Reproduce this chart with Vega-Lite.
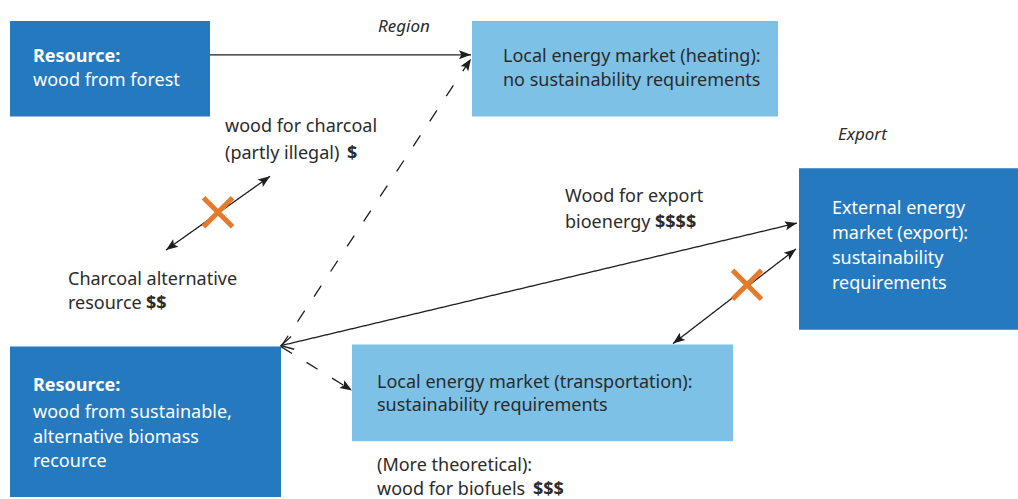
{
  "$schema": "https://vega.github.io/schema/vega-lite/v6.json",
  "width": 1018,
  "height": 499,
  "autosize": {"type": "fit", "contains": "padding"},
  "padding": 0,
  "background": "white",
  "config": {"view": {"stroke": null}, "font": "Noto Sans"},
  "datasets": {
    "boxes": [
      {"name": "forest", "x": 10, "x2": 210, "y": 21, "y2": 117, "kind": "resource"},
      {"name": "heating", "x": 472, "x2": 778, "y": 21, "y2": 117, "kind": "local"},
      {"name": "export", "x": 799, "x2": 1018, "y": 169, "y2": 331, "kind": "resource"},
      {"name": "sustainable", "x": 10, "x2": 281, "y": 348, "y2": 499, "kind": "resource"},
      {"name": "transport", "x": 352, "x2": 733, "y": 346, "y2": 443, "kind": "local"}
    ],
    "arrows": [
      {"x": 210, "y": 55, "x2": 471, "y2": 55, "line": "solid"},
      {"x": 281, "y": 348, "x2": 471, "y2": 59, "line": "dashed"},
      {"x": 281, "y": 347, "x2": 797, "y2": 224, "line": "solid"},
      {"x": 281, "y": 348, "x2": 352, "y2": 392, "line": "dashed"},
      {"x": 166, "y": 251, "x2": 270, "y2": 177, "line": "solid"},
      {"x": 673, "y": 345, "x2": 796, "y2": 250, "line": "solid"}
    ],
    "heads": [
      {"x": 471, "y": 55, "dir": 90},
      {"x": 471, "y": 59, "dir": 33.3},
      {"x": 797, "y": 224, "dir": 76.6},
      {"x": 352, "y": 392, "dir": 121.8},
      {"x": 270, "y": 177, "dir": 54.6},
      {"x": 166, "y": 251, "dir": 234.6},
      {"x": 796, "y": 250, "dir": 52.3},
      {"x": 673, "y": 345, "dir": 232.3}
    ],
    "chevrons": [
      {"x": 281, "y": 347, "dir": 256.6}
    ],
    "crosses": [
      {"x": 218, "y": 213},
      {"x": 747, "y": 286}
    ],
    "texts": [
      {"text": "Resource:", "x": 33, "y": 62, "style": "white-bold"},
      {"text": "wood from forest", "x": 33, "y": 86, "style": "white"},
      {"text": "Local energy market (heating):", "x": 503, "y": 62, "style": "dark"},
      {"text": "no sustainability requirements", "x": 503, "y": 86, "style": "dark"},
      {"text": "Region", "x": 378, "y": 32, "style": "italic"},
      {"text": "Export", "x": 838, "y": 141, "style": "italic"},
      {"text": "wood for charcoal", "x": 225, "y": 133, "style": "dark"},
      {"text": "(partly illegal)", "x": 225, "y": 160, "style": "dark"},
      {"text": "$", "x": 347, "y": 160, "style": "dark-bold"},
      {"text": "Charcoal alternative", "x": 68, "y": 286, "style": "dark"},
      {"text": "resource", "x": 68, "y": 310, "style": "dark"},
      {"text": "$$", "x": 146, "y": 310, "style": "dark-bold"},
      {"text": "Wood for export", "x": 565, "y": 203, "style": "dark"},
      {"text": "bioenergy", "x": 565, "y": 229, "style": "dark"},
      {"text": "$$$$", "x": 655, "y": 229, "style": "dark-bold"},
      {"text": "External energy", "x": 832, "y": 215, "style": "white"},
      {"text": "market (export):", "x": 832, "y": 240, "style": "white"},
      {"text": "sustainability", "x": 832, "y": 265, "style": "white"},
      {"text": "requirements", "x": 832, "y": 290, "style": "white"},
      {"text": "Resource:", "x": 33, "y": 393, "style": "white-bold"},
      {"text": "wood from sustainable,", "x": 33, "y": 420, "style": "white"},
      {"text": "alternative biomass", "x": 33, "y": 445, "style": "white"},
      {"text": "recource", "x": 33, "y": 469, "style": "white"},
      {"text": "Local energy market (transportation):", "x": 377, "y": 390, "style": "dark"},
      {"text": "sustainability requirements", "x": 377, "y": 413, "style": "dark"},
      {"text": "(More theoretical):", "x": 377, "y": 473, "style": "dark"},
      {"text": "wood for biofuels", "x": 377, "y": 497, "style": "dark"},
      {"text": "$$$", "x": 533, "y": 497, "style": "dark-bold"}
    ]
  },
  "encoding": {
    "x": {"field": "x", "type": "quantitative", "scale": {"domain": [0, 1018], "nice": false, "zero": false}, "axis": null},
    "y": {"field": "y", "type": "quantitative", "scale": {"domain": [0, 499], "reverse": true, "nice": false, "zero": false}, "axis": null}
  },
  "layer": [
    {
      "data": {"name": "boxes"},
      "mark": {"type": "rect"},
      "encoding": {
        "x2": {"field": "x2"},
        "y2": {"field": "y2"},
        "color": {"field": "kind", "type": "nominal", "scale": {"domain": ["resource", "local"], "range": ["#2579bf", "#7dc2e6"]}, "legend": null}
      }
    },
    {
      "data": {"name": "arrows"},
      "mark": {"type": "rule", "color": "#1e1e1e", "strokeWidth": 1.3},
      "encoding": {
        "x2": {"field": "x2"},
        "y2": {"field": "y2"},
        "strokeDash": {"field": "line", "type": "nominal", "scale": {"domain": ["solid", "dashed"], "range": [[1, 0], [13, 17]]}, "legend": null}
      }
    },
    {
      "data": {"name": "heads"},
      "mark": {"type": "point", "shape": "M0,0L0.38,1L0,0.8L-0.38,1Z", "filled": true, "color": "#1e1e1e", "opacity": 1, "size": 576},
      "encoding": {
        "angle": {"field": "dir", "type": "quantitative", "scale": null}
      }
    },
    {
      "data": {"name": "chevrons"},
      "mark": {"type": "point", "shape": "M-0.55,1L0,0L0.55,1", "filled": false, "color": "#1e1e1e", "strokeWidth": 1.3, "opacity": 1, "size": 576},
      "encoding": {
        "angle": {"field": "dir", "type": "quantitative", "scale": null}
      }
    },
    {
      "data": {"name": "crosses"},
      "mark": {"type": "point", "shape": "M-1,-1L1,1M1,-1L-1,1", "filled": false, "color": "#e57a2b", "strokeWidth": 5, "opacity": 1, "size": 841}
    },
    {
      "data": {"name": "texts"},
      "transform": [{"filter": "datum.style === 'white'"}],
      "mark": {"type": "text", "align": "left", "baseline": "alphabetic", "font": "Noto Sans", "fontSize": 18, "color": "#ffffff"},
      "encoding": {"text": {"field": "text"}}
    },
    {
      "data": {"name": "texts"},
      "transform": [{"filter": "datum.style === 'white-bold'"}],
      "mark": {"type": "text", "align": "left", "baseline": "alphabetic", "font": "Noto Sans", "fontSize": 18, "fontWeight": "bold", "color": "#ffffff"},
      "encoding": {"text": {"field": "text"}}
    },
    {
      "data": {"name": "texts"},
      "transform": [{"filter": "datum.style === 'dark'"}],
      "mark": {"type": "text", "align": "left", "baseline": "alphabetic", "font": "Noto Sans", "fontSize": 18, "color": "#2b2b2b"},
      "encoding": {"text": {"field": "text"}}
    },
    {
      "data": {"name": "texts"},
      "transform": [{"filter": "datum.style === 'dark-bold'"}],
      "mark": {"type": "text", "align": "left", "baseline": "alphabetic", "font": "Noto Sans", "fontSize": 18, "fontWeight": "bold", "color": "#2b2b2b"},
      "encoding": {"text": {"field": "text"}}
    },
    {
      "data": {"name": "texts"},
      "transform": [{"filter": "datum.style === 'italic'"}],
      "mark": {"type": "text", "align": "left", "baseline": "alphabetic", "font": "Noto Sans", "fontSize": 17, "fontStyle": "italic", "color": "#2b2b2b"},
      "encoding": {"text": {"field": "text"}}
    }
  ],
  "resolve": {"scale": {"color": "independent"}}
}
